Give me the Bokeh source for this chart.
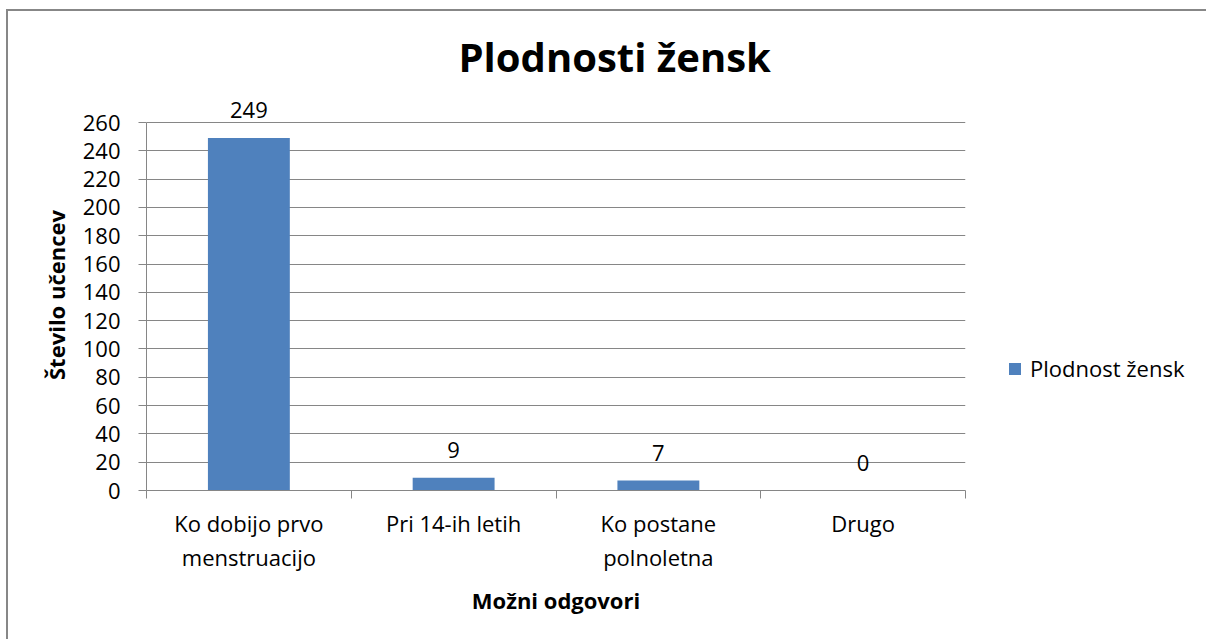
from bokeh.plotting import figure
from bokeh.models import Range1d, FixedTicker, ColumnDataSource, LabelSet
from bokeh.core.properties import value
from bokeh.embed import file_html
from bokeh.resources import INLINE

categories = ["Ko dobijo prvo\nmenstruacijo", "Pri 14-ih letih", "Ko postane\npolnoletna", "Drugo"]
counts = [249, 9, 7, 0]
y_ticks = [0, 20, 40, 60, 80, 100, 120, 140, 160, 180, 200, 220, 240, 260]
series_name = "Plodnost žensk"
title_text = "Plodnosti žensk"
x_title = "Možni odgovori"
y_title = "Število učencev"

FONT = "Open Sans"
GRAY = "#868686"
BLUE = "#4F81BD"

xs = [i + 0.5 for i in range(len(categories))]
src = ColumnDataSource(dict(x=xs, y=counts, lbl=[str(c) for c in counts]))

# extra headroom above 260 so the "249" label is not clipped (axis stays 0..260)
p = figure(frame_width=819, frame_height=391, output_backend="svg", toolbar_location=None,
           x_range=Range1d(0, len(categories)), y_range=Range1d(0, 276.25))
p.styles = {"margin-left": "6px", "margin-top": "9px",
            "border-left": "2px solid #878787", "border-top": "2px solid #878787"}
p.min_border_left = 138
p.min_border_top = 88
p.min_border_right = 241
p.min_border_bottom = 149
p.outline_line_color = None
p.background_fill_color = "white"
p.border_fill_color = "white"

p.title.text = title_text
p.title.text_font = FONT
p.title.text_font_size = "40px"
p.title.text_font_style = "bold"
p.title.text_color = "black"
p.title.align = "left"
p.title.offset = 312
p.title.standoff = 31

p.vbar(x="x", top="y", width=0.4, source=src, fill_color=BLUE, line_color=None,
       legend_label=series_name)
labels = LabelSet(x="x", y="y", text="lbl", source=src, text_font=value(FONT),
                  text_font_size="22px", text_align="center", text_baseline="bottom",
                  y_offset=20, text_color="black")
p.add_layout(labels)

# y axis
p.yaxis.ticker = FixedTicker(ticks=y_ticks)
p.yaxis.bounds = (0, 260)
p.yaxis.axis_line_color = GRAY
p.yaxis.major_tick_line_color = GRAY
p.yaxis.major_tick_out = 8
p.yaxis.major_tick_in = 0
p.yaxis.minor_tick_line_color = None
p.yaxis.major_label_text_font = FONT
p.yaxis.major_label_text_font_size = "22px"
p.yaxis.major_label_text_color = "black"
p.yaxis.major_label_standoff = 18
p.yaxis.axis_label = y_title
p.yaxis.axis_label_text_font = FONT
p.yaxis.axis_label_text_font_size = "22px"
p.yaxis.axis_label_text_font_style = "bold"
p.yaxis.axis_label_text_color = "black"
p.yaxis.axis_label_standoff = 9

# x axis
p.xaxis.ticker = FixedTicker(ticks=xs, minor_ticks=list(range(len(categories) + 1)))
p.xaxis.major_label_overrides = {x: c for x, c in zip(xs, categories)}
p.xaxis.axis_line_color = GRAY
p.xaxis.major_tick_line_color = None
p.xaxis.major_tick_out = 0
p.xaxis.major_tick_in = 0
p.xaxis.minor_tick_line_color = GRAY
p.xaxis.minor_tick_out = 8
p.xaxis.minor_tick_in = 0
p.xaxis.major_label_text_font = FONT
p.xaxis.major_label_text_font_size = "22px"
p.xaxis.major_label_text_color = "black"
p.xaxis.major_label_text_line_height = 1.15
p.xaxis.major_label_standoff = 9
p.xaxis.axis_label = x_title
p.xaxis.axis_label_text_font = FONT
p.xaxis.axis_label_text_font_size = "22px"
p.xaxis.axis_label_text_font_style = "bold"
p.xaxis.axis_label_text_color = "black"
p.xaxis.axis_label_standoff = 10

p.xgrid.grid_line_color = None
p.ygrid.grid_line_color = GRAY
p.ygrid.grid_line_width = 1

leg = p.legend[0]
leg.location = (42, 107)
leg.border_line_color = None
leg.background_fill_alpha = 0
leg.padding = 0
leg.margin = 0
leg.glyph_width = 15
leg.glyph_height = 15
leg.label_standoff = 8
leg.label_text_font = FONT
leg.label_text_font_size = "22px"
leg.label_text_color = "black"
p.add_layout(leg, "right")

open("out.html", "w").write(file_html(p, INLINE))
